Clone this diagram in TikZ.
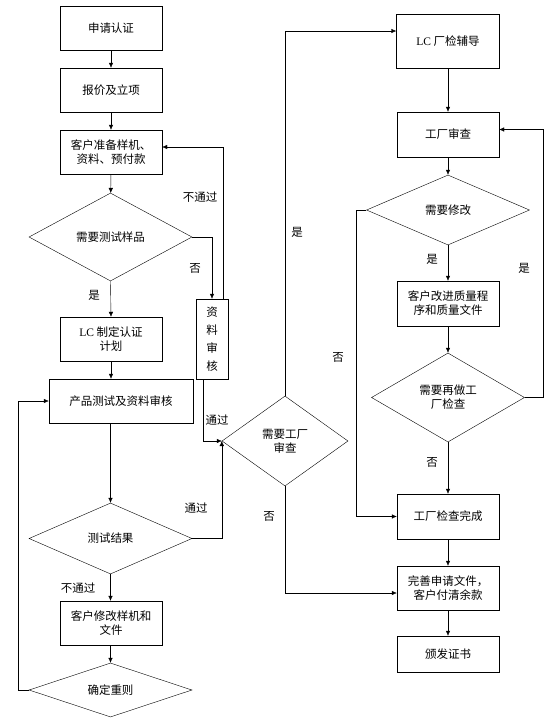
\documentclass[tikz,border=0pt]{standalone}
\usepackage{fontspec}
\usepackage{tikz}
\usetikzlibrary{shapes.geometric,arrows.meta}
\newfontfamily\cjk{Noto Sans CJK SC}
\newfontfamily\lat{Liberation Serif}

\tikzset{
    every node/.style={font=\cjk\fontsize{11.5}{14}\selectfont},
    box/.style={draw, thin, minimum width=102pt, minimum height=44pt, inner sep=0pt, align=center},
    decision/.style={draw, thin, diamond, aspect=2, inner sep=0pt, align=center},
    flow/.style={thin, -{Latex[length=5pt,width=4.5pt]}},
    tag/.style={inner sep=0pt}
}

\begin{document}
\begin{tikzpicture}[x=1pt, y=-1pt]
        \useasboundingbox (0,0) rectangle (558,724);
        % left column
        \node[box] (apply) at (111,28) {申请认证};
        \node[box] (quote) at (111,90) {报价及立项};
        \node[box] (prep) at (111,152) {客户准备样机、\\资料、预付款};
        \node[decision, minimum width=163pt, minimum height=88pt] (needtest) at (110.5,237) {需要测试样品};
        \node[box, minimum width=32pt, minimum height=80pt, text width=14pt,
            font=\cjk\fontsize{11.5}{18}\selectfont] (review) at (212,339) {资\\料\\审\\核};
        \node[box] (plan) at (111,339) {{\lat LC} 制定认证\\计划};
        \node[box, minimum width=144pt] (test) at (121,401) {产品测试及资料审核};
        \node[decision, minimum width=163pt, minimum height=71pt] (result) at (110.5,538.5) {测试结果};
        \node[box] (modify) at (111,623) {客户修改样机和\\文件};
        \node[decision, minimum width=163pt, minimum height=54pt] (redo) at (110.5,690) {确定重则};
        % middle
        \node[decision, minimum width=126pt, minimum height=90pt] (factory) at (285,441) {需要工厂\\审查};
        % right column
        \node[box, minimum width=103pt, minimum height=54pt] (lc) at (448,41) {{\lat LC} 厂检辅导};
        \node[box, minimum height=45pt] (audit) at (448,134.5) {工厂审查};
        \node[decision, minimum width=163pt, minimum height=70pt] (needmod) at (448,210) {需要修改};
        \node[box, minimum height=45pt] (improve) at (448,303.5) {客户改进质量程\\序和质量文件};
        \node[decision, minimum width=153pt, minimum height=89pt] (recheck) at (448,397.5) {需要再做工\\厂检查};
        \node[box, minimum height=45pt] (done) at (448,516.5) {工厂检查完成};
        \node[box] (finish) at (448,588) {完善申请文件，\\客户付清余款};
        \node[box, minimum height=36pt] (cert) at (448,654) {颁发证书};

        % labels
        \node[tag] (lnopass1) at (200,197) {不通过};
        \node[tag] (lno1) at (195,268) {否};
        \node[tag] (lyes1) at (94,295) {是};
        \node[tag] (lpass1) at (217,420) {通过};
        \node[tag] (lpass2) at (196,508) {通过};
        \node[tag] (lnopass2) at (78,588) {不通过};
        \node[tag] (lyes2) at (297,232) {是};
        \node[tag] (lno2) at (269,516) {否};
        \node[tag] (lno3) at (338,357) {否};
        \node[tag] (lyes3) at (432,259) {是};
        \node[tag] (lyes4) at (524,268) {是};
        \node[tag] (lno4) at (432,462) {否};

        % left connectors
        \draw[flow] (apply) -- (quote);
        \draw[flow] (quote) -- (prep);
        \draw[flow] (prep) -- (needtest);
        \draw[flow] (needtest.south) -- (plan.north);
        \draw[flow] (needtest.east) -| (review.north);
        \draw[flow] ([xshift=11pt]review.north) |- ([yshift=5pt]prep.east);
        \draw[flow] (plan.south) -- (test.north -| plan.south);
        \draw[flow] (test.south -| result.north) -- (result.north);
        \draw[flow] (result.south) -- (modify.north -| result.south);
        \draw[flow] (modify.south -| redo.north) -- (redo.north);
        \draw[flow] (redo.west) -- ++(-11,0) |- (test.west);
        \draw[flow] ([xshift=-9pt]review.south) |- (factory.west);
        \draw[flow] (result.east) -| (factory.west);
        % right connectors
        \draw[flow] (factory.north) |- ([yshift=10pt]lc.west);
        \draw[flow] (lc) -- (audit);
        \draw[flow] (audit) -- (needmod);
        \draw[flow] (needmod.south) -- (improve.north);
        \draw[flow] (needmod.west) -- ++(-10,0) |- (done.west);
        \draw[flow] (improve) -- (recheck);
        \draw[flow] (recheck.east) -- ++(18,0) |- ([yshift=5pt]audit.east);
        \draw[flow] (recheck.south) -- (done.north);
        \draw[flow] (factory.south) |- ([yshift=-5pt]finish.west);
        \draw[flow] (done) -- (finish);
        \draw[flow] (finish) -- (cert);
    \end{tikzpicture}
\end{document}
